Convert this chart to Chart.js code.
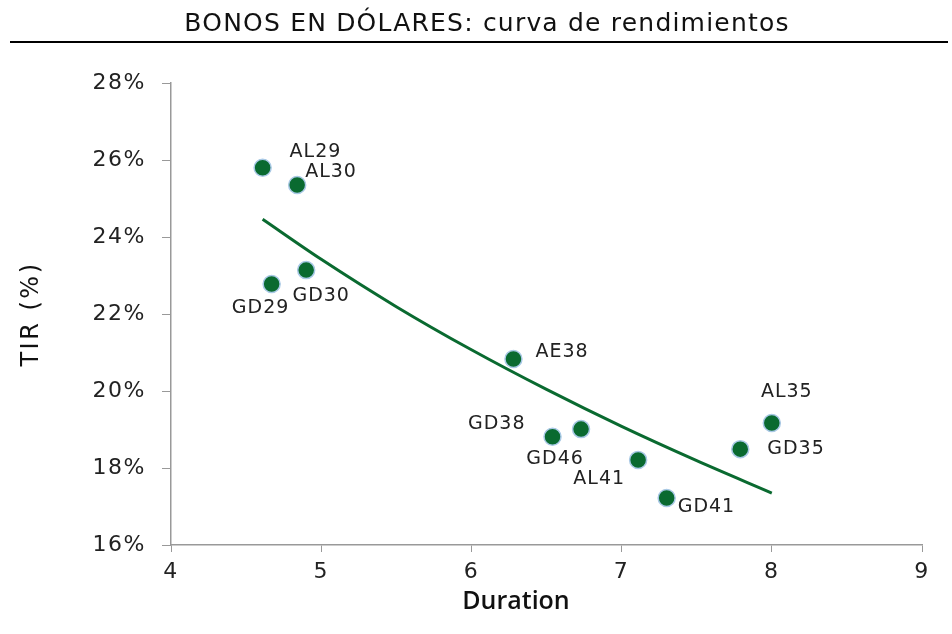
<!DOCTYPE html>
<html>
<head>
<meta charset="utf-8">
<script src="https://cdn.jsdelivr.net/npm/chart.js@4"></script>
<style>
  html, body { margin: 0; padding: 0; background: #fff; }
  #wrap { position: relative; width: 952px; height: 634px; }
</style>
</head>
<body>
<div id="wrap"><canvas id="chart" width="952" height="634"></canvas></div>
<script>
// datos
const bonos = ["AL29", "AL30", "GD29", "GD30", "AE38", "GD38", "GD46", "AL41", "GD41", "GD35", "AL35"];
const duration = [4.61, 4.84, 4.67, 4.90, 6.28, 6.54, 6.73, 7.11, 7.30, 7.79, 8.00];
const tir = [25.8, 25.35, 22.78, 23.14, 20.83, 18.81, 19.01, 18.21, 17.22, 18.49, 19.17];

// curva de tendencia (puntos leídos)
const trendX = [4.61, 5.0, 5.5, 6.0, 6.5, 7.0, 7.5, 8.0];
const trendY = [24.46, 23.42, 22.19, 21.07, 20.04, 19.08, 18.19, 17.35];

const yTicks = [16, 18, 20, 22, 24, 26, 28];
const xTicks = [4, 5, 6, 7, 8, 9];

const titulo = "BONOS EN DÓLARES: curva de rendimientos";
const green = "#0a6a30";

// posición de las etiquetas respecto de cada punto
const labelPos = {
  AL29: { dx: 27, dy: -16, align: "left" },
  AL30: { dx: 8, dy: -13, align: "left" },
  GD29: { dx: -11, dy: 24, align: "center" },
  GD30: { dx: 15, dy: 26, align: "center" },
  AE38: { dx: 22, dy: -7, align: "left" },
  GD38: { dx: -27, dy: -13, align: "right" },
  GD46: { dx: -26, dy: 30, align: "center" },
  AL41: { dx: -13, dy: 19, align: "right" },
  GD41: { dx: 11, dy: 9, align: "left" },
  GD35: { dx: 27, dy: 0, align: "left" },
  AL35: { dx: 15, dy: -31, align: "center" }
};

const decoPlugin = {
  id: "deco",
  beforeDraw(chart) {
    chart.ctx.letterSpacing = "1.5px";
  },
  afterDraw(chart) {
    const ctx = chart.ctx;
    ctx.save();
    // título y línea
    ctx.fillStyle = "#111";
    ctx.font = "25px 'DejaVu Sans'";
    ctx.letterSpacing = "1.2px";
    ctx.textAlign = "center";
    ctx.textBaseline = "middle";
    ctx.fillText(titulo, 487, 24);
    ctx.strokeStyle = "#000";
    ctx.lineWidth = 2;
    ctx.beginPath();
    ctx.moveTo(10, 42);
    ctx.lineTo(948, 42);
    ctx.stroke();

    // títulos de ejes
    ctx.letterSpacing = "0px";
    ctx.font = "600 25px 'Open Sans'";
    ctx.fillText("Duration", 516, 602);

    ctx.save();
    ctx.translate(32, 314);
    ctx.rotate(-Math.PI / 2);
    ctx.font = "24px 'DejaVu Sans'";
    ctx.letterSpacing = "2.5px";
    ctx.fillText("TIR (%)", 0, 0);
    ctx.restore();

    // etiquetas de los bonos
    const meta = chart.getDatasetMeta(0);
    ctx.font = "19px 'DejaVu Sans'";
    ctx.letterSpacing = "1px";
    ctx.fillStyle = "#222";
    meta.data.forEach((pt, i) => {
      const p = labelPos[bonos[i]];
      ctx.textAlign = p.align;
      ctx.fillText(bonos[i], pt.x + p.dx, pt.y + p.dy);
    });
    ctx.restore();
  }
};

const ctx = document.getElementById("chart").getContext("2d");
new Chart(ctx, {
  type: "scatter",
  data: {
    datasets: [
      {
        label: "TIR",
        data: duration.map((d, i) => ({ x: d, y: tir[i] })),
        backgroundColor: green,
        borderColor: "#a9c9e6",
        borderWidth: 1.5,
        pointRadius: 8.5
      },
      {
        label: "Tendencia",
        data: trendX.map((d, i) => ({ x: d, y: trendY[i] })),
        showLine: true,
        borderColor: green,
        borderWidth: 3,
        pointRadius: 0,
        cubicInterpolationMode: "monotone"
      }
    ]
  },
  options: {
    responsive: false,
    animation: false,
    layout: { padding: { top: 83, right: 30, left: 0, bottom: 0 } },
    plugins: {
      legend: { display: false },
      tooltip: { enabled: false }
    },
    scales: {
      x: {
        type: "linear",
        min: 4,
        max: 9,
        afterBuildTicks(scale) { scale.ticks = xTicks.map(v => ({ value: v })); },
        afterFit(scale) { scale.height = 634 - 545; },
        grid: { drawOnChartArea: false, drawTicks: true, tickLength: 7, color: "#999" },
        border: { color: "#999", width: 1.5 },
        ticks: { color: "#222", font: { family: "DejaVu Sans", size: 22 }, padding: 7 }
      },
      y: {
        min: 16,
        max: 28,
        afterBuildTicks(scale) { scale.ticks = yTicks.map(v => ({ value: v })); },
        afterFit(scale) { scale.width = 171; },
        grid: { drawOnChartArea: false, drawTicks: true, tickLength: 9, color: "#999" },
        border: { color: "#999", width: 1.5 },
        ticks: { color: "#222", font: { family: "DejaVu Sans", size: 22 }, padding: 16, callback: v => v + "%" }
      }
    }
  },
  plugins: [decoPlugin]
});
</script>
</body>
</html>
